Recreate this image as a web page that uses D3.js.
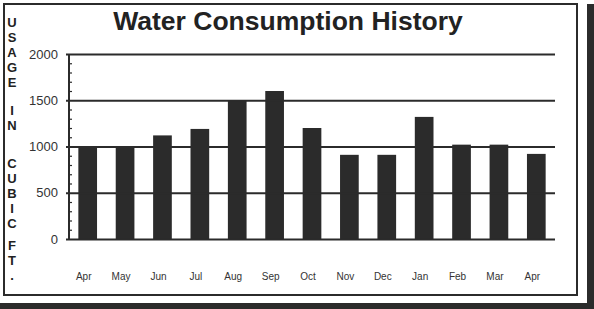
<!DOCTYPE html>
<html>
<head>
<meta charset="utf-8">
<script src="https://cdn.jsdelivr.net/npm/d3@7"></script>
<style>
  body { margin: 0; background: #fff; }
  svg { display: block; }
</style>
</head>
<body>
<div id="chart"></div>
<script>
/* DATA */
const months = ["Apr", "May", "Jun", "Jul", "Aug", "Sep", "Oct", "Nov", "Dec", "Jan", "Feb", "Mar", "Apr"];
const usage = [1000, 1000, 1120, 1190, 1500, 1600, 1200, 910, 910, 1320, 1020, 1020, 920];
const yTicks = [0, 500, 1000, 1500, 2000];
const titleWords = ["USAGE", "IN", "CUBIC", "FT."];

/* CONSTANTS */
const width = 594,
  height = 309,
  ink = "#2b2b2b";

const svg = d3.select("#chart")
  .append("svg")
  .attr("width", width)
  .attr("height", height);

// frame + shadow
svg.append("rect")
  .attr("x", 587).attr("y", 4)
  .attr("width", 7).attr("height", 305)
  .attr("fill", ink);
svg.append("rect")
  .attr("x", 0).attr("y", 303)
  .attr("width", 594).attr("height", 6)
  .attr("fill", ink);
svg.append("rect")
  .attr("x", 4).attr("y", 4)
  .attr("width", 573).attr("height", 291)
  .attr("fill", "#fff")
  .attr("stroke", ink)
  .attr("stroke-width", 2);

// scales
const xScale = d3.scaleBand()
  .domain(d3.range(months.length))
  .range([69, 555])
  .paddingInner(0.5)
  .paddingOuter(0.25);

const yScale = d3.scaleLinear()
  .domain([0, 2000])
  .range([239, 54]);

// title
svg.append("text")
  .attr("x", 288)
  .attr("y", 30)
  .attr("text-anchor", "middle")
  .attr("font-family", "Liberation Sans, Arial, sans-serif")
  .attr("font-weight", "bold")
  .attr("font-size", 26.5)
  .attr("fill", "#222")
  .text("Water Consumption History");

// vertical axis title, one letter per line
const step = 15,
  wordGaps = [0, 28, 38, 22];
let letters = [];
let yPos = 22;
titleWords.forEach((w, i) => {
  if (i > 0) yPos += wordGaps[i] - step;
  w.split("").forEach(ch => {
    letters.push({ ch, y: yPos });
    yPos += step;
  });
});
svg.append("g")
  .selectAll("text")
  .data(letters)
  .join("text")
  .attr("x", 12)
  .attr("y", d => d.y)
  .attr("dy", "0.36em")
  .attr("text-anchor", "middle")
  .attr("font-family", "Liberation Sans, Arial, sans-serif")
  .attr("font-weight", "bold")
  .attr("font-size", 13)
  .attr("fill", "#222")
  .text(d => d.ch);

// bars
svg.append("g")
  .selectAll("rect")
  .data(usage)
  .join("rect")
  .attr("x", (d, i) => xScale(i))
  .attr("y", d => yScale(d))
  .attr("width", xScale.bandwidth())
  .attr("height", d => yScale(0) - yScale(d))
  .attr("fill", ink);

// gridlines (drawn over bars)
const yAxis = d3.axisLeft(yScale)
  .tickValues(yTicks)
  .tickSize(-(555 - 66))
  .tickPadding(8)
  .tickFormat(d3.format("d"));

const yG = svg.append("g")
  .attr("transform", "translate(66,0)")
  .call(yAxis);
yG.select(".domain").remove();
yG.selectAll(".tick line")
  .attr("stroke", ink)
  .attr("stroke-width", 2);
yG.selectAll(".tick text")
  .attr("font-family", "Liberation Sans, Arial, sans-serif")
  .attr("font-size", 13)
  .attr("fill", "#333");

// minor ticks on y axis
const minor = d3.range(0, 2001, 100).filter(v => v % 500 !== 0);
const minorAxis = d3.axisRight(yScale)
  .tickValues(minor)
  .tickSize(3)
  .tickFormat("");
const mG = svg.append("g")
  .attr("transform", "translate(69,0)")
  .call(minorAxis);
mG.select(".domain").remove();
mG.selectAll(".tick line").attr("stroke", ink).attr("stroke-width", 1.2);

// y axis line
svg.append("line")
  .attr("x1", 69).attr("x2", 69)
  .attr("y1", yScale(2000)).attr("y2", yScale(0))
  .attr("stroke", ink)
  .attr("stroke-width", 2);

// month labels
const xAxis = d3.axisBottom(xScale)
  .tickSize(0)
  .tickFormat(i => months[i]);
const xG = svg.append("g")
  .attr("transform", "translate(-4,270)")
  .call(xAxis);
xG.select(".domain").remove();
xG.selectAll(".tick text")
  .attr("font-family", "Liberation Sans, Arial, sans-serif")
  .attr("font-size", 10)
  .attr("fill", "#333");
</script>
</body>
</html>
